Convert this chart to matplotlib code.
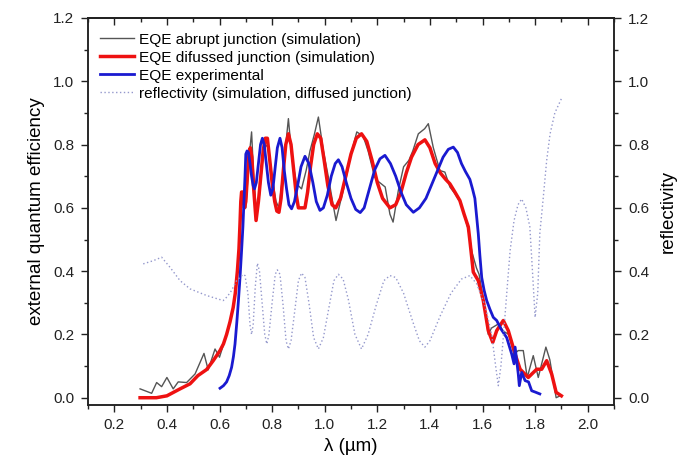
import matplotlib
matplotlib.use("Agg")
import matplotlib.pyplot as plt
from matplotlib.ticker import MultipleLocator

plt.rcParams['font.family'] = ['Liberation Sans', 'DejaVu Sans']

# EQE abrupt junction (simulation)
abrupt_x = [0.298, 0.342, 0.361, 0.38, 0.40, 0.424, 0.443, 0.475, 0.507, 0.541, 0.557, 0.583, 0.60,
            0.627, 0.652, 0.665, 0.675, 0.682, 0.69, 0.70, 0.705, 0.715, 0.722, 0.73, 0.741, 0.752,
            0.765, 0.775, 0.785, 0.80, 0.815, 0.826, 0.84, 0.852, 0.862, 0.875, 0.893, 0.912, 0.93,
            0.944, 0.96, 0.976, 0.995, 1.014, 1.03, 1.043, 1.06, 1.077, 1.10, 1.122, 1.146, 1.165,
            1.19, 1.20, 1.23, 1.248, 1.26, 1.28, 1.30, 1.32, 1.335, 1.356, 1.38, 1.394, 1.413, 1.438,
            1.457, 1.476, 1.495, 1.514, 1.53, 1.546, 1.56, 1.577, 1.587, 1.605, 1.622, 1.634, 1.66,
            1.68, 1.70, 1.72, 1.736, 1.755, 1.77, 1.793, 1.812, 1.841, 1.856, 1.88, 1.895]
abrupt_y = [0.028, 0.014, 0.048, 0.035, 0.064, 0.028, 0.05, 0.048, 0.075, 0.14, 0.088, 0.154, 0.128,
            0.20, 0.285, 0.36, 0.47, 0.60, 0.65, 0.60, 0.66, 0.78, 0.84, 0.70, 0.58, 0.64,
            0.76, 0.80, 0.79, 0.70, 0.62, 0.60, 0.70, 0.80, 0.882, 0.76, 0.676, 0.66, 0.72,
            0.78, 0.83, 0.887, 0.78, 0.697, 0.62, 0.56, 0.62, 0.676, 0.77, 0.84, 0.827, 0.78,
            0.697, 0.686, 0.666, 0.58, 0.555, 0.655, 0.73, 0.75, 0.78, 0.834, 0.85, 0.866, 0.79, 0.718,
            0.713, 0.666, 0.645, 0.62, 0.58, 0.53, 0.46, 0.41, 0.39, 0.30, 0.20, 0.22, 0.233,
            0.21, 0.20, 0.138, 0.149, 0.149, 0.064, 0.133, 0.064, 0.16, 0.12, 0.0, 0.006]

# EQE diffused junction (simulation)
diff_x = [0.298, 0.33, 0.36, 0.40, 0.45, 0.488, 0.518, 0.551, 0.576, 0.602, 0.615, 0.627, 0.64,
          0.652, 0.66, 0.668, 0.674, 0.678, 0.681, 0.684, 0.69, 0.695, 0.70, 0.706, 0.712, 0.717,
          0.723, 0.73, 0.739, 0.748, 0.757, 0.766, 0.774, 0.782, 0.79, 0.80, 0.81, 0.818, 0.826,
          0.834, 0.843, 0.852, 0.862, 0.872, 0.882, 0.892, 0.90, 0.925, 0.935, 0.946, 0.958, 0.972,
          0.985, 0.998, 1.012, 1.028, 1.042, 1.06, 1.08, 1.10, 1.12, 1.14, 1.16, 1.18, 1.20, 1.22,
          1.248, 1.27, 1.29, 1.31, 1.33, 1.355, 1.381, 1.40, 1.42, 1.44, 1.46, 1.476, 1.495, 1.514,
          1.53, 1.546, 1.552, 1.565, 1.584, 1.603, 1.622, 1.639, 1.654, 1.679, 1.698, 1.724, 1.743,
          1.774, 1.806, 1.825, 1.844, 1.863, 1.88, 1.90]
diff_y = [0.0, 0.0, 0.0, 0.006, 0.028, 0.044, 0.07, 0.089, 0.117, 0.149, 0.17, 0.20, 0.24,
          0.285, 0.33, 0.40, 0.47, 0.55, 0.62, 0.65, 0.65, 0.60, 0.62, 0.70, 0.77, 0.79,
          0.76, 0.66, 0.56, 0.62, 0.70, 0.78, 0.82, 0.82, 0.76, 0.68, 0.62, 0.59, 0.586,
          0.63, 0.72, 0.80, 0.834, 0.80, 0.72, 0.64, 0.60, 0.60, 0.65, 0.73, 0.80, 0.834,
          0.82, 0.75, 0.67, 0.61, 0.60, 0.63, 0.70, 0.77, 0.82, 0.834, 0.81, 0.75, 0.68, 0.63,
          0.60, 0.61, 0.65, 0.71, 0.76, 0.80, 0.815, 0.79, 0.74, 0.71, 0.69, 0.676, 0.65, 0.623,
          0.58, 0.54, 0.497, 0.397, 0.37, 0.307, 0.212, 0.175, 0.212, 0.244, 0.212, 0.138, 0.09,
          0.064, 0.09, 0.09, 0.117, 0.075, 0.017, 0.006]

# EQE experimental
exp_x = [0.602, 0.615, 0.627, 0.637, 0.646, 0.653, 0.659, 0.666, 0.672, 0.678, 0.684, 0.689, 0.693,
         0.697, 0.70, 0.705, 0.71, 0.716, 0.722, 0.728, 0.733, 0.74, 0.748, 0.756, 0.763, 0.77,
         0.778, 0.786, 0.795, 0.803, 0.812, 0.82, 0.83, 0.838, 0.846, 0.855, 0.864, 0.874, 0.885,
         0.897, 0.91, 0.925, 0.94, 0.955, 0.968, 0.982, 0.995, 1.01, 1.025, 1.04, 1.052, 1.066,
         1.082, 1.10, 1.118, 1.135, 1.15, 1.17, 1.19, 1.21, 1.229, 1.25, 1.27, 1.29, 1.31, 1.337,
         1.36, 1.385, 1.41, 1.43, 1.45, 1.47, 1.489, 1.505, 1.52, 1.535, 1.552, 1.562, 1.571,
         1.578, 1.584, 1.59, 1.597, 1.606, 1.616, 1.628, 1.641, 1.654, 1.672, 1.692, 1.711, 1.72,
         1.724, 1.736, 1.74, 1.749, 1.762, 1.775, 1.787, 1.80, 1.818]
exp_y = [0.03, 0.038, 0.05, 0.07, 0.096, 0.13, 0.17, 0.24, 0.307, 0.38, 0.465, 0.54, 0.62,
         0.70, 0.77, 0.78, 0.775, 0.74, 0.70, 0.67, 0.66, 0.68, 0.74, 0.80, 0.82, 0.80,
         0.74, 0.68, 0.64, 0.66, 0.73, 0.79, 0.82, 0.79, 0.72, 0.66, 0.61, 0.597, 0.62,
         0.67, 0.73, 0.763, 0.74, 0.68, 0.62, 0.592, 0.60, 0.64, 0.70, 0.74, 0.752, 0.73,
         0.68, 0.63, 0.595, 0.585, 0.60, 0.66, 0.72, 0.755, 0.766, 0.74, 0.70, 0.65, 0.61, 0.586,
         0.60, 0.63, 0.68, 0.72, 0.76, 0.785, 0.792, 0.775, 0.74, 0.715, 0.69, 0.66, 0.63,
         0.57, 0.518, 0.45, 0.38, 0.34, 0.307, 0.28, 0.254, 0.244, 0.215, 0.19, 0.138, 0.107,
         0.16, 0.075, 0.038, 0.08, 0.054, 0.05, 0.022, 0.018, 0.012]

# reflectivity (simulation, diffused junction)
refl_x = [0.31, 0.348, 0.38, 0.412, 0.45, 0.488, 0.551, 0.614, 0.63, 0.646, 0.665, 0.69, 0.697,
          0.708, 0.716, 0.722, 0.728, 0.736, 0.744, 0.752, 0.762, 0.772, 0.78, 0.788, 0.80, 0.812,
          0.82, 0.83, 0.842, 0.853, 0.862, 0.872, 0.887, 0.90, 0.912, 0.925, 0.94, 0.958, 0.976,
          0.995, 1.015, 1.035, 1.052, 1.07, 1.09, 1.115, 1.14, 1.165, 1.195, 1.225, 1.248, 1.27,
          1.30, 1.335, 1.36, 1.381, 1.40, 1.44, 1.48, 1.52, 1.552, 1.578, 1.61, 1.635, 1.65, 1.66,
          1.67, 1.68, 1.695, 1.705, 1.72, 1.735, 1.749, 1.765, 1.78, 1.79, 1.80, 1.81, 1.818,
          1.83, 1.844, 1.857, 1.875, 1.90]
refl_y = [0.423, 0.433, 0.444, 0.412, 0.37, 0.344, 0.323, 0.307, 0.32, 0.339, 0.37, 0.39, 0.386,
          0.33, 0.23, 0.20, 0.23, 0.35, 0.425, 0.40, 0.30, 0.20, 0.17, 0.20, 0.30, 0.39,
          0.404, 0.39, 0.29, 0.18, 0.154, 0.18, 0.28, 0.37, 0.394, 0.38, 0.30, 0.19, 0.154,
          0.19, 0.28, 0.37, 0.39, 0.375, 0.31, 0.20, 0.154, 0.20, 0.29, 0.37, 0.386, 0.38,
          0.33, 0.24, 0.18, 0.16, 0.18, 0.26, 0.33, 0.375, 0.386, 0.36, 0.29, 0.20, 0.10, 0.038,
          0.10, 0.20, 0.36, 0.465, 0.56, 0.61, 0.628, 0.60, 0.54, 0.40, 0.254, 0.33, 0.52,
          0.623, 0.75, 0.834, 0.90, 0.945]

fig = plt.figure(figsize=(6.94, 4.65), dpi=100)
ax = fig.add_axes([88/694, 60/465, (614-88)/694, (405-18)/465])
ax2 = ax.twinx()

l1, = ax.plot(abrupt_x, abrupt_y, color='#555555', lw=1.0)
l2, = ax.plot(diff_x, diff_y, color='#ee1111', lw=2.5)
l3, = ax.plot(exp_x, exp_y, color='#1a1ad0', lw=2.0)
l4, = ax2.plot(refl_x, refl_y, color='#9498cc', lw=1.0, linestyle=(0, (1, 1.8)))

for a in (ax, ax2):
    a.set_xlim(0.1, 2.1)
    a.set_ylim(-0.023, 1.2)
    a.yaxis.set_major_locator(MultipleLocator(0.2))
    a.yaxis.set_minor_locator(MultipleLocator(0.1))
ax.xaxis.set_major_locator(MultipleLocator(0.2))
ax.xaxis.set_minor_locator(MultipleLocator(0.1))
ax.set_xticks([0.2, 0.4, 0.6, 0.8, 1.0, 1.2, 1.4, 1.6, 1.8, 2.0])
ax.set_xticklabels(['0.2', '0.4', '0.6', '0.8', '1.0', '1.2', '1.4', '1.6', '1.8', '2.0'])

ax.tick_params(axis='x', which='both', direction='out', top=False, labelsize=11, colors='#222222', pad=4)
ax.tick_params(axis='x', which='major', length=5, width=1)
ax.tick_params(axis='x', which='minor', length=3, width=1)
ax.tick_params(axis='y', which='major', direction='out', length=5, width=1, labelsize=11, colors='#222222', pad=5)
ax.tick_params(axis='y', which='minor', direction='out', length=3, width=1, colors='#222222')
ax2.tick_params(axis='y', which='major', direction='out', length=5, width=1, labelsize=11, colors='#222222', pad=5)
ax2.tick_params(axis='y', which='minor', direction='out', length=3, width=1, colors='#222222')

secx = ax.secondary_xaxis('top')
secx.xaxis.set_major_locator(MultipleLocator(0.2))
secx.xaxis.set_minor_locator(MultipleLocator(0.1))
secx.tick_params(which='both', direction='in', labeltop=False, colors='#222222')
secx.tick_params(which='major', length=5, width=1)
secx.tick_params(which='minor', length=3, width=1)

ax.set_xlabel('λ (µm)', fontsize=13.5, labelpad=5)
ax.set_ylabel('external quantum efficiency', fontsize=13.5, labelpad=6)
ax2.set_ylabel('reflectivity', fontsize=13.5, labelpad=8)

for a in (ax, ax2):
    for s in a.spines.values():
        s.set_linewidth(1.1)
        s.set_color('#222222')
secx.spines['top'].set_linewidth(1.1)

leg = ax.legend([l1, l2, l3, l4],
                ['EQE abrupt junction (simulation)', 'EQE difussed junction (simulation)',
                 'EQE experimental', 'reflectivity (simulation, diffused junction)'],
                loc='upper left', bbox_to_anchor=(0.012, 0.978), frameon=False, fontsize=11.1,
                handlelength=2.2, handletextpad=0.3, labelspacing=0.26, borderaxespad=0)

fig.savefig('out.png', dpi=100)
